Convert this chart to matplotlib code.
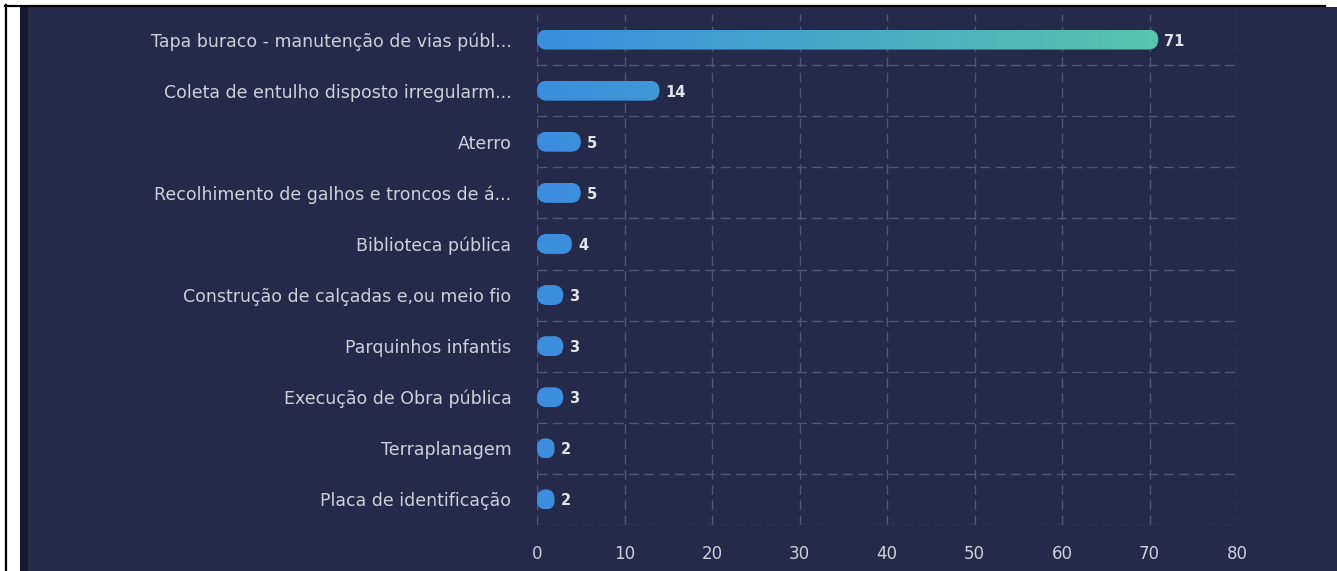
import numpy as np
import matplotlib
matplotlib.use('Agg')
import matplotlib.pyplot as plt
from matplotlib.patches import FancyBboxPatch, Rectangle
from matplotlib.lines import Line2D
from matplotlib.colors import LinearSegmentedColormap

categories = [
    'Tapa buraco - manutenção de vias públ...',
    'Coleta de entulho disposto irregularm...',
    'Aterro',
    'Recolhimento de galhos e troncos de á...',
    'Biblioteca pública',
    'Construção de calçadas e,ou meio fio',
    'Parquinhos infantis',
    'Execução de Obra pública',
    'Terraplanagem',
    'Placa de identificação',
]
values = [71, 14, 5, 5, 4, 3, 3, 3, 2, 2]
xticks = [0, 10, 20, 30, 40, 50, 60, 70, 80]

W, H = 1337, 571
bg = '#252a4a'
grid_c = '#50577a'
label_c = '#cfd1da'
value_c = '#e4e5ea'
c_start, c_end = '#3b8de0', '#56c6ab'

fig = plt.figure(figsize=(W / 100, H / 100), dpi=100, facecolor='white')

def fx(px):
    return px / W

def fy(py):
    return 1 - py / H

# page frame / panel (behind the axes)
fig.add_artist(Rectangle((fx(20), 0), fx(8), fy(7), transform=fig.transFigure,
                         facecolor='#161a2e', edgecolor='none', zorder=-10))
fig.add_artist(Rectangle((fx(28), 0), 1 - fx(28), fy(7), transform=fig.transFigure,
                         facecolor=bg, edgecolor='none', zorder=-10))
fig.add_artist(Line2D([fx(6), fx(6)], [fy(5), 0], transform=fig.transFigure,
                      color='black', lw=1.6, zorder=-9))
fig.add_artist(Line2D([fx(5), fx(1325)], [fy(6), fy(6)], transform=fig.transFigure,
                      color='black', lw=1.6, zorder=-9))

left, right, top, bottom = 537, 1237, 14, 525
ax = fig.add_axes([fx(left), fy(bottom), fx(right - left), (bottom - top) / H])
ax.set_facecolor('none')

n = len(categories)
ax.set_xlim(0, 80)
ax.set_ylim(n - 0.5, -0.5)

px_x = (right - left) / 80.0
px_y = (bottom - top) / n
bar_h = 20 / px_y
asp = (1 / px_y) / (1 / px_x)

cmap = LinearSegmentedColormap.from_list('g', [c_start, c_end])
grad = np.linspace(0, 1, 256).reshape(1, -1)
vmax = max(values)

for i, v in enumerate(values):
    r = min(10 / px_x, v / 2.0)
    patch = FancyBboxPatch((0, i - bar_h / 2), v, bar_h,
                           boxstyle='round,pad=0,rounding_size=%f' % r,
                           mutation_aspect=asp, facecolor='none', edgecolor='none')
    ax.add_patch(patch)
    im = ax.imshow(grad, cmap=cmap, aspect='auto', interpolation='bicubic',
                   extent=(0, vmax, i + bar_h / 2, i - bar_h / 2), zorder=3)
    im.set_clip_path(patch)
    ax.text(v + 0.7, i + 0.03, str(v), ha='left', va='center', color=value_c,
            fontsize=10.5, fontweight='bold', zorder=4)

ax.set_xlim(0, 80)
ax.set_ylim(n - 0.5, -0.5)

# grid
for t in xticks:
    ax.axvline(t, color=grid_c, lw=1, ls=(0, (7, 4)), zorder=1)
for i in range(n):
    ax.hlines(i + 0.5, 0, 80, color=grid_c, lw=1, ls=(0, (7, 4)), zorder=1)

ax.set_xticks(xticks)
ax.set_xticklabels([str(t) for t in xticks])
ax.set_yticks(range(n))
ax.set_yticklabels(categories)
ax.tick_params(axis='x', length=0, pad=14.5, labelsize=12, labelcolor=label_c)
ax.tick_params(axis='y', length=0, pad=18.5, labelsize=12.5, labelcolor=label_c)
for s in ax.spines.values():
    s.set_visible(False)

plt.savefig('out.png', dpi=100, facecolor=fig.get_facecolor())
